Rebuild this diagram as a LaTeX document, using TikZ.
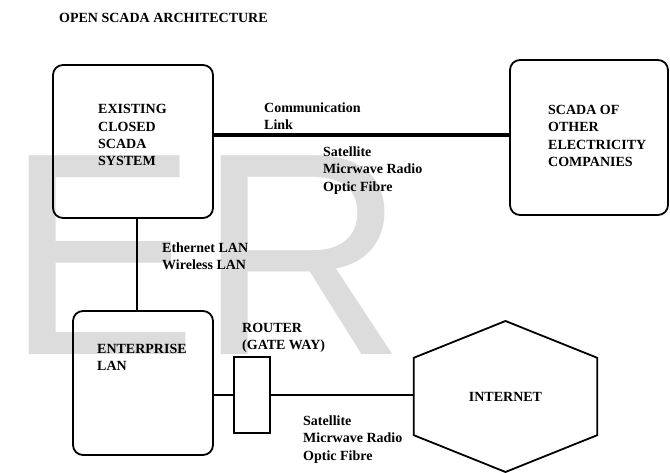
\documentclass[tikz,border=0pt]{standalone}
\usepackage{fontspec}
\setmainfont{Liberation Serif}
\newfontfamily\wmfont{Liberation Sans}
\definecolor{wmgray}{RGB}{220,220,220}
\begin{document}
\begin{tikzpicture}[x=1pt,y=-1pt,
  lbl/.style={font=\fontsize{14}{17.3}\selectfont\bfseries, anchor=base west, align=left, inner sep=0pt},
  box/.style={draw, line width=1.8pt, rounded corners=10pt, inner sep=0pt},
  router/.style={draw, line width=1.8pt, inner sep=0pt},
  link/.style={line width=3.4pt},
  wire/.style={line width=1.7pt}]
\useasboundingbox (0,0) rectangle (670,473);
% watermark
\node[anchor=base west, inner sep=0pt, text=wmgray, font=\wmfont\fontsize{289}{300}\selectfont] (wm) at (5,355) {ER};
% title
\node[lbl] (title) at (59,22.7) {OPEN SCADA ARCHITECTURE};
% boxes
\node[box, minimum width=160pt, minimum height=153pt] (box1) at (133,141.5) {};
\node[box, minimum width=158pt, minimum height=155pt] (box2) at (589,137.5) {};
\node[box, minimum width=140pt, minimum height=144pt] (box3) at (143,383) {};
\node[router, minimum width=36pt, minimum height=76pt] (rtr) at (252,395) {};
\node[inner sep=0pt, minimum width=183pt, minimum height=77pt, font=\fontsize{14}{17.3}\selectfont\bfseries] (inet) at (505.5,396.5) {INTERNET};
\draw[line width=1.8pt, line join=miter] (inet.north west) -- (505.5,321) -- (inet.north east) -- (inet.south east) -- (505.5,472) -- (inet.south west) -- cycle;
% box texts (anchor = baseline of last line)
\node[lbl] (t1) at (98,165.9) {EXISTING\\CLOSED\\SCADA\\SYSTEM};
\node[lbl] (t2) at (548,166.4) {SCADA OF\\OTHER\\ELECTRICITY\\COMPANIES};
\node[lbl] (t3) at (97,370.8) {ENTERPRISE\\LAN};
% connectors
\coordinate (linky) at (0,135);
\coordinate (vx) at (137,0);
\draw[link] (box1.east |- linky) -- (box2.west |- linky);
\draw[wire] (box1.south -| vx) -- (box3.north -| vx);
\draw[wire] (box3.east |- rtr.west) -- (rtr.west);
\draw[wire] (rtr.east) -- (rtr.east -| inet.west);
% connector labels
\node[lbl] (c1) at (264,130) {Communication\\Link};
\node[lbl] (c2) at (323,191.3) {Satellite\\Micrwave Radio\\Optic Fibre};
\node[lbl] (c3) at (162,269.8) {Ethernet LAN\\Wireless LAN};
\node[lbl] (c4) at (242,349.8) {ROUTER\\(GATE WAY)};
\node[lbl] (c5) at (303,460.1) {Satellite\\Micrwave Radio\\Optic Fibre};
\end{tikzpicture}
\end{document}
